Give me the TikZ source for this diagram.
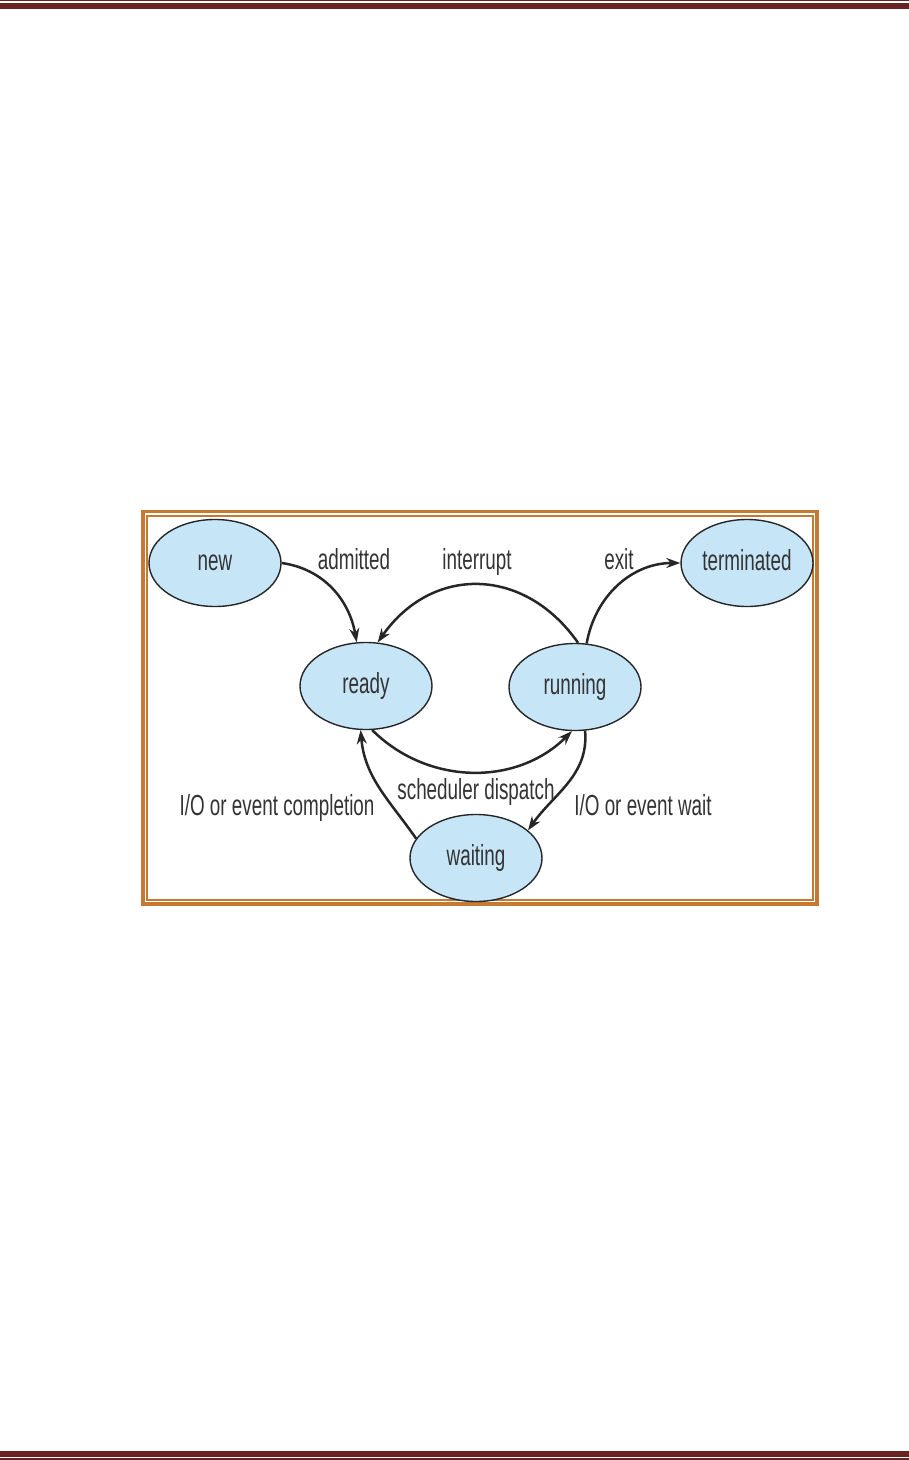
\documentclass[tikz,border=0pt]{standalone}
\usepackage{fontspec}
\newfontfamily\narrowsans{Liberation Sans}[FakeStretch=0.65]
\usetikzlibrary{arrows.meta,shapes.geometric}
\definecolor{rulered}{RGB}{104,34,34}
\definecolor{framebrown}{RGB}{196,122,50}
\definecolor{statefill}{RGB}{198,230,248}
\tikzset{
  pstate/.style={draw=black!85, ellipse, line width=0.7pt, fill=statefill, minimum width=66pt, minimum height=43.5pt, inner sep=0pt, text height=7.5pt, text depth=0pt, text=black!80, font=\narrowsans\fontsize{14.5}{17}\selectfont},
  plabel/.style={inner sep=1pt, text height=7.5pt, text depth=0pt, text=black!80, font=\narrowsans\fontsize{14.5}{17}\selectfont},
  parrow/.style={-{Stealth[length=7pt,width=5pt]}, line width=1.25pt, draw=black!85},
  pframe/.style={draw=framebrown}
}
\begin{document}
\begin{tikzpicture}[x=0.5pt, y=-0.5pt]
\useasboundingbox (0,0) rectangle (909,1460);
% page rules
\fill[rulered] (0,0) rectangle (909,1.4);
\fill[rulered] (0,3.3) rectangle (909,9);
\fill[rulered] (0,1451) rectangle (909,1457);
\fill[rulered] (0,1458.4) rectangle (909,1460);
% double frame
\draw[pframe, line width=1.6pt] (143,511.5) rectangle (817,904);
\draw[pframe, line width=0.8pt] (147,516) rectangle (813,900);

% states
\node[pstate] (new) at (215,563) {new};
\node[pstate] (terminated) at (747,563) {terminated};
\node[pstate] (ready) at (366,686) {ready};
\node[pstate] (running) at (575,687) {running};
\node[pstate] (waiting) at (476,858) {waiting};

% transitions
\draw[parrow] (new.east) to[out=-8, in=100] (ready.102);
\draw[parrow] (running.86) to[out=125, in=55, looseness=1.2] (ready.75);
\draw[parrow] (running.75) to[out=80, in=180] (terminated.west);
\draw[parrow] (ready.-82) to[out=-45, in=-135] (running.-94);
\draw[parrow] (waiting.162) to[out=125, in=-85] (ready.-97);
\draw[parrow] (running.-77) to[out=-85, in=55] (waiting.28);

% labels
\node[plabel] (admittedlbl) at (354,562) {admitted};
\node[plabel] (interruptlbl) at (477,562) {interrupt};
\node[plabel] (exitlbl) at (619,562) {exit};
\node[plabel] (dispatchlbl) at (476,792) {scheduler dispatch};
\node[plabel] (completionlbl) at (277,808) {I/O or event completion};
\node[plabel] (waitlbl) at (643,808) {I/O or event wait};
\end{tikzpicture}
\end{document}
